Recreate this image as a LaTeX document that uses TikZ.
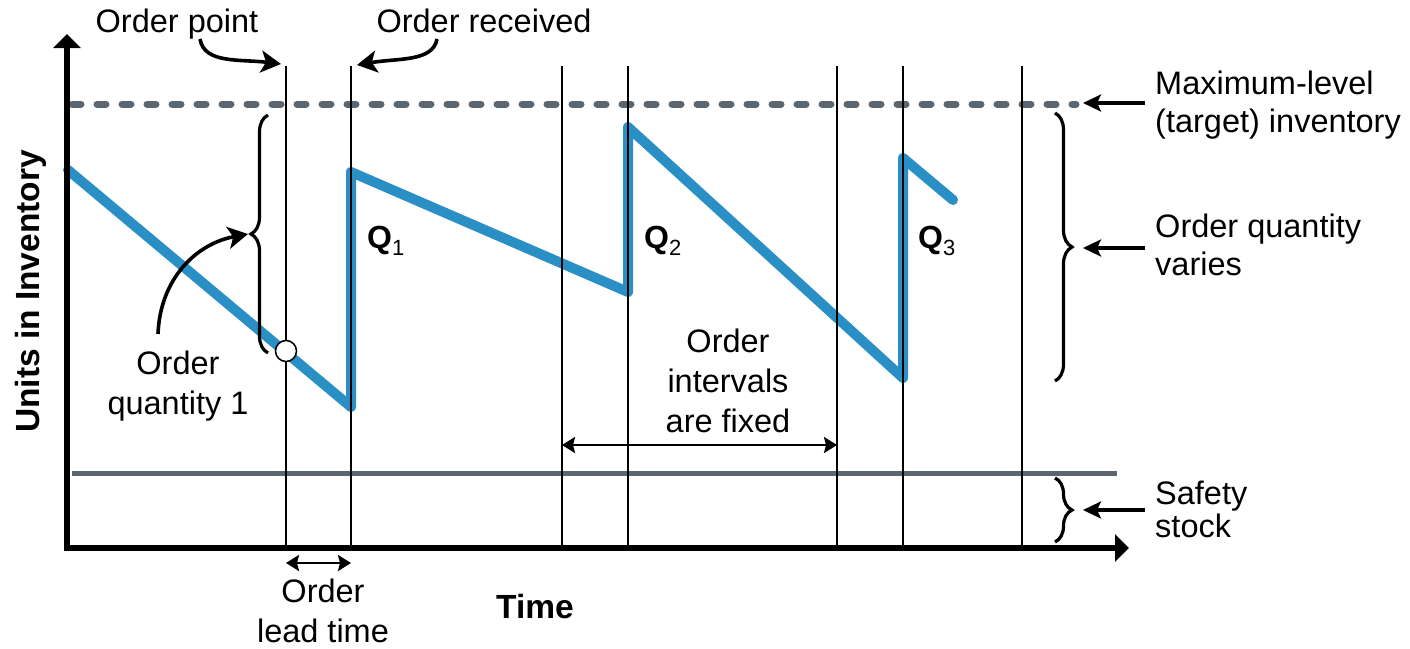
\documentclass[tikz,border=0pt]{standalone}
\usepackage{fontspec}
\setmainfont{Liberation Sans}
\usetikzlibrary{arrows.meta,decorations.pathreplacing}
\definecolor{invblue}{HTML}{2A8FC4}
\definecolor{slate}{HTML}{5B6770}
\begin{document}
\begin{tikzpicture}[x=1pt,y=-1pt,
  lbl/.style={font=\fontsize{32.5}{40}\selectfont, align=center, inner sep=0pt},
  rlbl/.style={font=\fontsize{32.5}{38}\selectfont, align=left, anchor=west, inner sep=0pt},
  boldlbl/.style={font=\fontsize{33.5}{33.5}\selectfont\bfseries, inner sep=0pt},
  qlbl/.style={font=\fontsize{32}{32}\selectfont, anchor=base west, inner sep=0pt},
  vline/.style={line width=2pt},
  axis/.style={line width=5.5pt, line join=miter, {Triangle[length=14pt,width=27pt]}-{Triangle[length=14pt,width=27pt]}},
  ptr/.style={line width=3.6pt, -{Stealth[length=20pt,width=22pt,inset=5pt]}},
  sideptr/.style={line width=3.4pt, -{Stealth[length=18pt,width=17pt,inset=4pt]}},
  dim/.style={line width=2.6pt, {Stealth[length=13pt,width=16pt,inset=2pt]}-{Stealth[length=13pt,width=16pt,inset=2pt]}},
  brc/.style={decorate, decoration={brace, amplitude=17pt, aspect=0.5}, line width=3.2pt},
  invline/.style={invblue, line width=10pt, line join=round, line cap=round}
]
\useasboundingbox (0,0) rectangle (1410,648);

% reference lines
\coordinate (dl) at (72,104);
\coordinate (dr) at (1076,104);
\draw[slate, line width=7pt, line cap=round, dash pattern=on 9pt off 16pt] (dl) -- (dr);
\coordinate (sl) at (72,473);
\coordinate (sr) at (1117,473);
\draw[slate, line width=5pt] (sl) -- (sr);

% inventory line
\coordinate (p0) at (68,170);
\coordinate (p1) at (351,407);
\coordinate (p2) at (351,172);
\coordinate (p3) at (628,292);
\coordinate (p4) at (628,127);
\coordinate (p5) at (903,378);
\coordinate (p6) at (903,158);
\coordinate (p7) at (953,200);
\draw[invline] (p0) -- (p1) -- (p2) -- (p3) -- (p4) -- (p5) -- (p6) -- (p7);

% vertical time lines
\foreach \x [count=\i] in {286,351,562,628,837,903,1022} {
  \coordinate (vt\i) at (\x,66);
  \coordinate (vb\i) at (\x,548);
  \draw[vline] (vt\i) -- (vb\i);
}

% axes
\coordinate (ytip) at (67,34);
\coordinate (orig) at (67,548);
\coordinate (xtip) at (1129,548);
\draw[axis] (ytip) -- (orig) -- (xtip);

% order point marker
\node[circle, draw, fill=white, line width=1.5pt, minimum size=21pt, inner sep=0pt] (opm) at (286,351) {};

% braces
\coordinate (lb1) at (268,353);
\coordinate (lb2) at (268,115);
\draw[brc] (lb1) -- (lb2);
\coordinate (rb1) at (1055,113);
\coordinate (rb2) at (1055,381);
\draw[brc] (rb1) -- (rb2);
\coordinate (sb1) at (1055,478);
\coordinate (sb2) at (1055,542);
\draw[brc] (sb1) -- (sb2);

% labels
\node[lbl] (lop) at (177,24.5) {Order point};
\node[lbl] (lor) at (484,21) {Order received};
\node[rlbl] (lmax) at (1155,105.5) {Maximum-level\\(target) inventory};
\node[rlbl] (loqv) at (1155,244.5) {Order quantity\\varies};
\node[rlbl, font=\fontsize{32.5}{33.5}\selectfont] (lss) at (1155,509.5) {Safety\\stock};
\node[lbl] (loq1) at (178,386.5) {Order\\quantity 1};
\node[lbl] (loif) at (728,380.5) {Order\\intervals\\are fixed};
\node[lbl] (lolt) at (323,611) {Order\\lead time};
\node[boldlbl] (ltime) at (535,606.5) {Time};
\node[boldlbl, rotate=90] (lunits) at (31,291.5) {Units in Inventory};

\node[qlbl] (q1) at (367,248) {\textbf{Q}\raisebox{-7pt}{\fontsize{22}{22}\selectfont 1}};
\node[qlbl] (q2) at (644,248) {\textbf{Q}\raisebox{-7pt}{\fontsize{22}{22}\selectfont 2}};
\node[qlbl] (q3) at (918,248) {\textbf{Q}\raisebox{-7pt}{\fontsize{22}{22}\selectfont 3}};

% pointer arrows
\coordinate (aop1) at (200,39);
\coordinate (aop2) at (281,64);
\draw[ptr] (aop1) .. controls (204,64) and (240,59) .. (aop2);
\coordinate (aor1) at (437,39);
\coordinate (aor2) at (357,65);
\draw[ptr] (aor1) .. controls (433,62) and (398,58) .. (aor2);
\coordinate (aq1) at (158,334);
\coordinate (aq2) at (248,234);
\draw[ptr] (aq1) .. controls (160,280) and (195,244) .. (aq2);

\coordinate (amx1) at (1145,103);
\coordinate (amx2) at (1083,103);
\draw[sideptr] (amx1) -- (amx2);
\coordinate (aqv1) at (1145,248);
\coordinate (aqv2) at (1083,248);
\draw[sideptr] (aqv1) -- (aqv2);
\coordinate (ass1) at (1145,510);
\coordinate (ass2) at (1083,510);
\draw[sideptr] (ass1) -- (ass2);

% dimension arrows
\coordinate (dlt1) at (286,563);
\coordinate (dlt2) at (351,563);
\draw[dim] (dlt1) -- (dlt2);
\coordinate (dif1) at (562,445);
\coordinate (dif2) at (837,445);
\draw[dim] (dif1) -- (dif2);
\end{tikzpicture}
\end{document}
